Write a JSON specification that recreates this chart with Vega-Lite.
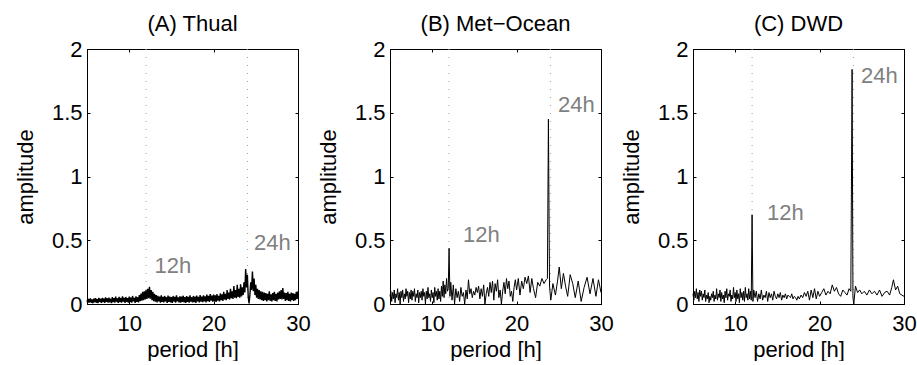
{
  "$schema": "https://vega.github.io/schema/vega-lite/v6.json",
  "autosize": {"type": "pad"},
  "padding": {"left": 13, "top": 12, "right": 0, "bottom": 0},
  "background": "white",
  "bounds": "flush",
  "spacing": 92,
  "datasets": {
    "refs": [{"period": 12}, {"period": 24}],
    "labA": [{"period": 13.0, "amp": 0.24, "label": "12h"}, {"period": 24.8, "amp": 0.42, "label": "24h"}],
    "labB": [{"period": 13.65, "amp": 0.486, "label": "12h"}, {"period": 24.9, "amp": 1.506, "label": "24h"}],
    "labC": [{"period": 13.77, "amp": 0.659, "label": "12h"}, {"period": 24.9, "amp": 1.733, "label": "24h"}],
    "thual": [
      {"period":5.0,"amp":0.03},{"period":5.1,"amp":0.008},{"period":5.2,"amp":0.04},{"period":5.3,"amp":0.012},{"period":5.4,"amp":0.045},{"period":5.5,"amp":0.01},{"period":5.6,"amp":0.036},{"period":5.7,"amp":0.006},{"period":5.8,"amp":0.042},{"period":5.9,"amp":0.014},
      {"period":6.0,"amp":0.046},{"period":6.1,"amp":0.01},{"period":6.2,"amp":0.039},{"period":6.3,"amp":0.007},{"period":6.4,"amp":0.048},{"period":6.5,"amp":0.016},{"period":6.6,"amp":0.041},{"period":6.7,"amp":0.009},{"period":6.8,"amp":0.047},{"period":6.9,"amp":0.014},
      {"period":7.0,"amp":0.043},{"period":7.1,"amp":0.008},{"period":7.2,"amp":0.052},{"period":7.3,"amp":0.017},{"period":7.4,"amp":0.045},{"period":7.5,"amp":0.01},{"period":7.6,"amp":0.05},{"period":7.7,"amp":0.013},{"period":7.8,"amp":0.041},{"period":7.9,"amp":0.007},
      {"period":8.0,"amp":0.054},{"period":8.1,"amp":0.015},{"period":8.2,"amp":0.046},{"period":8.3,"amp":0.011},{"period":8.4,"amp":0.058},{"period":8.5,"amp":0.018},{"period":8.6,"amp":0.044},{"period":8.7,"amp":0.009},{"period":8.8,"amp":0.056},{"period":8.9,"amp":0.014},
      {"period":9.0,"amp":0.047},{"period":9.1,"amp":0.011},{"period":9.2,"amp":0.06},{"period":9.3,"amp":0.019},{"period":9.4,"amp":0.049},{"period":9.5,"amp":0.008},{"period":9.6,"amp":0.055},{"period":9.7,"amp":0.016},{"period":9.8,"amp":0.046},{"period":9.9,"amp":0.01},
      {"period":10.0,"amp":0.058},{"period":10.1,"amp":0.014},{"period":10.2,"amp":0.051},{"period":10.3,"amp":0.011},{"period":10.4,"amp":0.063},{"period":10.5,"amp":0.02},{"period":10.6,"amp":0.048},{"period":10.7,"amp":0.009},{"period":10.8,"amp":0.06},{"period":10.9,"amp":0.017},
      {"period":11.0,"amp":0.053},{"period":11.1,"amp":0.013},{"period":11.2,"amp":0.07},{"period":11.3,"amp":0.022},{"period":11.4,"amp":0.082},{"period":11.5,"amp":0.027},{"period":11.6,"amp":0.095},{"period":11.7,"amp":0.03},{"period":11.8,"amp":0.1},{"period":11.9,"amp":0.035},
      {"period":12.0,"amp":0.11},{"period":12.1,"amp":0.04},{"period":12.2,"amp":0.12},{"period":12.3,"amp":0.045},{"period":12.4,"amp":0.135},{"period":12.5,"amp":0.042},{"period":12.6,"amp":0.11},{"period":12.7,"amp":0.03},{"period":12.8,"amp":0.095},{"period":12.9,"amp":0.022},
      {"period":13.0,"amp":0.08},{"period":13.1,"amp":0.018},{"period":13.2,"amp":0.07},{"period":13.3,"amp":0.012},{"period":13.4,"amp":0.064},{"period":13.5,"amp":0.02},{"period":13.6,"amp":0.058},{"period":13.7,"amp":0.01},{"period":13.8,"amp":0.068},{"period":13.9,"amp":0.017},
      {"period":14.0,"amp":0.056},{"period":14.1,"amp":0.012},{"period":14.2,"amp":0.063},{"period":14.3,"amp":0.02},{"period":14.4,"amp":0.053},{"period":14.5,"amp":0.009},{"period":14.6,"amp":0.066},{"period":14.7,"amp":0.016},{"period":14.8,"amp":0.058},{"period":14.9,"amp":0.012},
      {"period":15.0,"amp":0.054},{"period":15.1,"amp":0.008},{"period":15.2,"amp":0.063},{"period":15.3,"amp":0.019},{"period":15.4,"amp":0.056},{"period":15.5,"amp":0.011},{"period":15.6,"amp":0.068},{"period":15.7,"amp":0.021},{"period":15.8,"amp":0.052},{"period":15.9,"amp":0.012},
      {"period":16.0,"amp":0.06},{"period":16.1,"amp":0.01},{"period":16.2,"amp":0.058},{"period":16.3,"amp":0.016},{"period":16.4,"amp":0.065},{"period":16.5,"amp":0.012},{"period":16.6,"amp":0.054},{"period":16.7,"amp":0.008},{"period":16.8,"amp":0.062},{"period":16.9,"amp":0.017},
      {"period":17.0,"amp":0.056},{"period":17.1,"amp":0.011},{"period":17.2,"amp":0.068},{"period":17.3,"amp":0.019},{"period":17.4,"amp":0.053},{"period":17.5,"amp":0.012},{"period":17.6,"amp":0.063},{"period":17.7,"amp":0.015},{"period":17.8,"amp":0.058},{"period":17.9,"amp":0.009},
      {"period":18.0,"amp":0.066},{"period":18.1,"amp":0.021},{"period":18.2,"amp":0.056},{"period":18.3,"amp":0.012},{"period":18.4,"amp":0.07},{"period":18.5,"amp":0.018},{"period":18.6,"amp":0.058},{"period":18.7,"amp":0.014},{"period":18.8,"amp":0.068},{"period":18.9,"amp":0.021},
      {"period":19.0,"amp":0.06},{"period":19.1,"amp":0.012},{"period":19.2,"amp":0.074},{"period":19.3,"amp":0.023},{"period":19.4,"amp":0.063},{"period":19.5,"amp":0.016},{"period":19.6,"amp":0.078},{"period":19.7,"amp":0.026},{"period":19.8,"amp":0.066},{"period":19.9,"amp":0.019},
      {"period":20.0,"amp":0.073},{"period":20.1,"amp":0.021},{"period":20.2,"amp":0.068},{"period":20.3,"amp":0.016},{"period":20.4,"amp":0.078},{"period":20.5,"amp":0.026},{"period":20.6,"amp":0.063},{"period":20.7,"amp":0.021},{"period":20.8,"amp":0.083},{"period":20.9,"amp":0.03},
      {"period":21.0,"amp":0.075},{"period":21.1,"amp":0.025},{"period":21.2,"amp":0.095},{"period":21.3,"amp":0.035},{"period":21.4,"amp":0.08},{"period":21.5,"amp":0.03},{"period":21.6,"amp":0.11},{"period":21.7,"amp":0.04},{"period":21.8,"amp":0.09},{"period":21.9,"amp":0.035},
      {"period":22.0,"amp":0.12},{"period":22.1,"amp":0.045},{"period":22.2,"amp":0.1},{"period":22.3,"amp":0.04},{"period":22.4,"amp":0.14},{"period":22.5,"amp":0.05},{"period":22.6,"amp":0.11},{"period":22.7,"amp":0.045},{"period":22.8,"amp":0.15},{"period":22.9,"amp":0.055},
      {"period":23.0,"amp":0.12},{"period":23.1,"amp":0.05},{"period":23.2,"amp":0.155},{"period":23.3,"amp":0.06},{"period":23.4,"amp":0.13},{"period":23.5,"amp":0.07},{"period":23.6,"amp":0.17},{"period":23.7,"amp":0.09},{"period":23.8,"amp":0.275},{"period":23.9,"amp":0.13},
      {"period":24.0,"amp":0.23},{"period":24.1,"amp":0.06},{"period":24.2,"amp":0.005},{"period":24.3,"amp":0.07},{"period":24.4,"amp":0.17},{"period":24.5,"amp":0.11},{"period":24.6,"amp":0.255},{"period":24.7,"amp":0.1},{"period":24.8,"amp":0.2},{"period":24.9,"amp":0.07},
      {"period":25.0,"amp":0.15},{"period":25.1,"amp":0.05},{"period":25.2,"amp":0.12},{"period":25.3,"amp":0.04},{"period":25.4,"amp":0.11},{"period":25.5,"amp":0.035},{"period":25.6,"amp":0.1},{"period":25.7,"amp":0.03},{"period":25.8,"amp":0.095},{"period":25.9,"amp":0.025},
      {"period":26.0,"amp":0.09},{"period":26.1,"amp":0.03},{"period":26.2,"amp":0.085},{"period":26.3,"amp":0.02},{"period":26.4,"amp":0.08},{"period":26.5,"amp":0.03},{"period":26.6,"amp":0.1},{"period":26.7,"amp":0.025},{"period":26.8,"amp":0.075},{"period":26.9,"amp":0.02},
      {"period":27.0,"amp":0.085},{"period":27.1,"amp":0.03},{"period":27.2,"amp":0.095},{"period":27.3,"amp":0.025},{"period":27.4,"amp":0.08},{"period":27.5,"amp":0.02},{"period":27.6,"amp":0.09},{"period":27.7,"amp":0.035},{"period":27.8,"amp":0.1},{"period":27.9,"amp":0.04},
      {"period":28.0,"amp":0.11},{"period":28.1,"amp":0.035},{"period":28.2,"amp":0.125},{"period":28.3,"amp":0.04},{"period":28.4,"amp":0.09},{"period":28.5,"amp":0.025},{"period":28.6,"amp":0.085},{"period":28.7,"amp":0.03},{"period":28.8,"amp":0.095},{"period":28.9,"amp":0.025},
      {"period":29.0,"amp":0.08},{"period":29.1,"amp":0.02},{"period":29.2,"amp":0.09},{"period":29.3,"amp":0.03},{"period":29.4,"amp":0.085},{"period":29.5,"amp":0.025},{"period":29.6,"amp":0.08},{"period":29.7,"amp":0.03},{"period":29.8,"amp":0.095},{"period":29.9,"amp":0.04},
      {"period":30.0,"amp":0.1}
    ],
    "met": [
      {"period":5.0,"amp":0.06},{"period":5.1,"amp":0.1},{"period":5.2,"amp":0.02},{"period":5.3,"amp":0.09},{"period":5.4,"amp":0.04},{"period":5.5,"amp":0.11},{"period":5.6,"amp":0.01},{"period":5.7,"amp":0.08},{"period":5.8,"amp":0.05},{"period":5.9,"amp":0.12},
      {"period":6.0,"amp":0.03},{"period":6.1,"amp":0.09},{"period":6.2,"amp":0.0},{"period":6.3,"amp":0.1},{"period":6.4,"amp":0.05},{"period":6.5,"amp":0.11},{"period":6.6,"amp":0.02},{"period":6.7,"amp":0.08},{"period":6.8,"amp":0.04},{"period":6.9,"amp":0.12},
      {"period":7.0,"amp":0.06},{"period":7.1,"amp":0.1},{"period":7.2,"amp":0.01},{"period":7.3,"amp":0.09},{"period":7.4,"amp":0.04},{"period":7.5,"amp":0.11},{"period":7.6,"amp":0.03},{"period":7.7,"amp":0.1},{"period":7.8,"amp":0.06},{"period":7.9,"amp":0.12},
      {"period":8.0,"amp":0.02},{"period":8.1,"amp":0.08},{"period":8.2,"amp":0.05},{"period":8.3,"amp":0.11},{"period":8.4,"amp":0.01},{"period":8.5,"amp":0.09},{"period":8.6,"amp":0.05},{"period":8.7,"amp":0.1},{"period":8.8,"amp":0.03},{"period":8.9,"amp":0.12},
      {"period":9.0,"amp":0.06},{"period":9.1,"amp":0.09},{"period":9.2,"amp":0.0},{"period":9.3,"amp":0.1},{"period":9.4,"amp":0.04},{"period":9.5,"amp":0.13},{"period":9.6,"amp":0.05},{"period":9.7,"amp":0.08},{"period":9.8,"amp":0.02},{"period":9.9,"amp":0.11},
      {"period":10.0,"amp":0.05},{"period":10.1,"amp":0.09},{"period":10.2,"amp":0.01},{"period":10.3,"amp":0.13},{"period":10.4,"amp":0.06},{"period":10.5,"amp":0.1},{"period":10.6,"amp":0.03},{"period":10.7,"amp":0.12},{"period":10.8,"amp":0.04},{"period":10.9,"amp":0.1},
      {"period":11.0,"amp":0.02},{"period":11.1,"amp":0.14},{"period":11.2,"amp":0.06},{"period":11.3,"amp":0.18},{"period":11.4,"amp":0.05},{"period":11.5,"amp":0.15},{"period":11.6,"amp":0.08},{"period":11.7,"amp":0.2},{"period":11.8,"amp":0.1},{"period":11.9,"amp":0.12},
      {"period":12.0,"amp":0.437},{"period":12.1,"amp":0.06},{"period":12.2,"amp":0.17},{"period":12.35,"amp":0.03},{"period":12.5,"amp":0.15},{"period":12.65,"amp":0.0},{"period":12.8,"amp":0.12},{"period":12.95,"amp":0.05},
      {"period":13.1,"amp":0.1},{"period":13.25,"amp":0.02},{"period":13.4,"amp":0.13},{"period":13.55,"amp":0.06},{"period":13.7,"amp":0.09},{"period":13.85,"amp":0.0},{"period":14.0,"amp":0.11},{"period":14.15,"amp":0.04},
      {"period":14.3,"amp":0.19},{"period":14.45,"amp":0.08},{"period":14.6,"amp":0.12},{"period":14.75,"amp":0.05},{"period":14.9,"amp":0.1},{"period":15.05,"amp":0.07},{"period":15.2,"amp":0.13},{"period":15.35,"amp":0.09},
      {"period":15.5,"amp":0.14},{"period":15.65,"amp":0.04},{"period":15.8,"amp":0.12},{"period":15.95,"amp":0.06},{"period":16.1,"amp":0.15},{"period":16.25,"amp":0.0},{"period":16.4,"amp":0.08},{"period":16.55,"amp":0.13},
      {"period":16.7,"amp":0.06},{"period":16.85,"amp":0.17},{"period":17.0,"amp":0.09},{"period":17.15,"amp":0.18},{"period":17.3,"amp":0.03},{"period":17.45,"amp":0.16},{"period":17.6,"amp":0.1},{"period":17.75,"amp":0.19},
      {"period":17.9,"amp":0.05},{"period":18.05,"amp":0.11},{"period":18.2,"amp":0.0},{"period":18.35,"amp":0.1},{"period":18.5,"amp":0.17},{"period":18.65,"amp":0.08},{"period":18.8,"amp":0.2},{"period":18.95,"amp":0.12},
      {"period":19.1,"amp":0.18},{"period":19.25,"amp":0.06},{"period":19.4,"amp":0.1},{"period":19.55,"amp":0.02},{"period":19.7,"amp":0.13},{"period":19.85,"amp":0.19},
      {"period":20.0,"amp":0.11},{"period":20.2,"amp":0.2},{"period":20.4,"amp":0.07},{"period":20.6,"amp":0.18},{"period":20.8,"amp":0.12},{"period":21.0,"amp":0.21},{"period":21.2,"amp":0.16},{"period":21.4,"amp":0.22},
      {"period":21.6,"amp":0.09},{"period":21.8,"amp":0.2},{"period":22.0,"amp":0.12},{"period":22.25,"amp":0.05},{"period":22.5,"amp":0.17},{"period":22.75,"amp":0.14},{"period":23.0,"amp":0.2},{"period":23.25,"amp":0.16},
      {"period":23.5,"amp":0.19},{"period":23.65,"amp":0.2},{"period":23.77,"amp":1.45},{"period":23.9,"amp":0.14},{"period":24.05,"amp":0.03},{"period":24.3,"amp":0.16},{"period":24.6,"amp":0.07},{"period":24.85,"amp":0.18},
      {"period":25.05,"amp":0.29},{"period":25.3,"amp":0.12},{"period":25.55,"amp":0.24},{"period":25.8,"amp":0.14},{"period":26.05,"amp":0.06},{"period":26.35,"amp":0.23},{"period":26.65,"amp":0.16},{"period":26.95,"amp":0.05},
      {"period":27.3,"amp":0.18},{"period":27.65,"amp":0.02},{"period":28.0,"amp":0.13},{"period":28.35,"amp":0.21},{"period":28.7,"amp":0.08},{"period":29.05,"amp":0.2},{"period":29.4,"amp":0.06},{"period":29.7,"amp":0.19},{"period":30.0,"amp":0.09}
    ],
    "dwd": [
      {"period":5.0,"amp":0.08},{"period":5.1,"amp":0.03},{"period":5.2,"amp":0.1},{"period":5.3,"amp":0.05},{"period":5.4,"amp":0.12},{"period":5.5,"amp":0.04},{"period":5.6,"amp":0.09},{"period":5.7,"amp":0.02},{"period":5.8,"amp":0.11},{"period":5.9,"amp":0.06},
      {"period":6.0,"amp":0.1},{"period":6.1,"amp":0.03},{"period":6.2,"amp":0.08},{"period":6.3,"amp":0.05},{"period":6.4,"amp":0.11},{"period":6.5,"amp":0.02},{"period":6.6,"amp":0.07},{"period":6.7,"amp":0.04},{"period":6.8,"amp":0.09},{"period":6.9,"amp":0.01},
      {"period":7.0,"amp":0.06},{"period":7.1,"amp":0.03},{"period":7.2,"amp":0.08},{"period":7.3,"amp":0.05},{"period":7.4,"amp":0.1},{"period":7.5,"amp":0.02},{"period":7.6,"amp":0.07},{"period":7.7,"amp":0.04},{"period":7.8,"amp":0.12},{"period":7.9,"amp":0.03},
      {"period":8.0,"amp":0.08},{"period":8.1,"amp":0.05},{"period":8.2,"amp":0.11},{"period":8.3,"amp":0.02},{"period":8.4,"amp":0.09},{"period":8.5,"amp":0.04},{"period":8.6,"amp":0.07},{"period":8.7,"amp":0.01},{"period":8.8,"amp":0.1},{"period":8.9,"amp":0.05},
      {"period":9.0,"amp":0.12},{"period":9.1,"amp":0.03},{"period":9.2,"amp":0.08},{"period":9.3,"amp":0.06},{"period":9.4,"amp":0.11},{"period":9.5,"amp":0.02},{"period":9.6,"amp":0.07},{"period":9.7,"amp":0.04},{"period":9.8,"amp":0.13},{"period":9.9,"amp":0.05},
      {"period":10.0,"amp":0.09},{"period":10.1,"amp":0.02},{"period":10.2,"amp":0.11},{"period":10.3,"amp":0.04},{"period":10.4,"amp":0.08},{"period":10.5,"amp":0.01},{"period":10.6,"amp":0.12},{"period":10.7,"amp":0.05},{"period":10.8,"amp":0.09},{"period":10.9,"amp":0.03},
      {"period":11.0,"amp":0.1},{"period":11.1,"amp":0.02},{"period":11.2,"amp":0.13},{"period":11.3,"amp":0.05},{"period":11.4,"amp":0.08},{"period":11.5,"amp":0.03},{"period":11.6,"amp":0.12},{"period":11.7,"amp":0.04},{"period":11.8,"amp":0.1},{"period":11.9,"amp":0.03},
      {"period":12.0,"amp":0.7},{"period":12.1,"amp":0.02},{"period":12.2,"amp":0.11},{"period":12.35,"amp":0.05},{"period":12.5,"amp":0.1},{"period":12.65,"amp":0.02},{"period":12.8,"amp":0.08},{"period":12.95,"amp":0.04},
      {"period":13.1,"amp":0.11},{"period":13.25,"amp":0.03},{"period":13.4,"amp":0.07},{"period":13.55,"amp":0.05},{"period":13.7,"amp":0.1},{"period":13.85,"amp":0.02},{"period":14.0,"amp":0.09},{"period":14.15,"amp":0.05},
      {"period":14.3,"amp":0.08},{"period":14.45,"amp":0.03},{"period":14.6,"amp":0.1},{"period":14.75,"amp":0.06},{"period":14.9,"amp":0.04},{"period":15.05,"amp":0.08},{"period":15.2,"amp":0.05},{"period":15.35,"amp":0.09},
      {"period":15.5,"amp":0.03},{"period":15.65,"amp":0.07},{"period":15.8,"amp":0.05},{"period":15.95,"amp":0.08},{"period":16.1,"amp":0.04},{"period":16.25,"amp":0.07},{"period":16.4,"amp":0.06},{"period":16.55,"amp":0.05},
      {"period":16.7,"amp":0.08},{"period":16.85,"amp":0.04},{"period":17.0,"amp":0.06},{"period":17.15,"amp":0.05},{"period":17.3,"amp":0.03},{"period":17.45,"amp":0.06},{"period":17.6,"amp":0.04},{"period":17.8,"amp":0.07},
      {"period":18.0,"amp":0.05},{"period":18.2,"amp":0.09},{"period":18.4,"amp":0.06},{"period":18.6,"amp":0.1},{"period":18.8,"amp":0.03},{"period":19.0,"amp":0.11},{"period":19.2,"amp":0.05},{"period":19.4,"amp":0.12},
      {"period":19.6,"amp":0.04},{"period":19.8,"amp":0.1},{"period":20.0,"amp":0.06},{"period":20.25,"amp":0.09},{"period":20.5,"amp":0.12},{"period":20.75,"amp":0.07},{"period":21.0,"amp":0.1},{"period":21.25,"amp":0.08},
      {"period":21.5,"amp":0.15},{"period":21.75,"amp":0.1},{"period":22.0,"amp":0.13},{"period":22.25,"amp":0.08},{"period":22.5,"amp":0.06},{"period":22.75,"amp":0.11},{"period":23.0,"amp":0.09},{"period":23.25,"amp":0.07},
      {"period":23.5,"amp":0.12},{"period":23.7,"amp":0.1},{"period":23.85,"amp":1.84},{"period":23.95,"amp":0.05},{"period":24.05,"amp":0.0},{"period":24.25,"amp":0.14},{"period":24.5,"amp":0.09},{"period":24.75,"amp":0.11},
      {"period":25.0,"amp":0.08},{"period":25.3,"amp":0.1},{"period":25.6,"amp":0.07},{"period":25.9,"amp":0.11},{"period":26.2,"amp":0.08},{"period":26.5,"amp":0.1},{"period":26.8,"amp":0.07},{"period":27.1,"amp":0.11},
      {"period":27.4,"amp":0.06},{"period":27.7,"amp":0.09},{"period":28.0,"amp":0.1},{"period":28.3,"amp":0.07},{"period":28.55,"amp":0.13},{"period":28.75,"amp":0.19},{"period":29.0,"amp":0.11},{"period":29.25,"amp":0.14},
      {"period":29.5,"amp":0.08},{"period":29.75,"amp":0.07},{"period":30.0,"amp":0.06}
    ]
  },
  "hconcat": [
    {
      "width": 211, "height": 255,
      "title": "(A) Thual",
      "layer": [
        {"data": {"name": "refs"}, "mark": {"type": "rule", "color": "#9a9a9a", "strokeDash": [1, 7], "strokeWidth": 1},
         "encoding": {"x": {"field": "period", "type": "quantitative", "scale": {"domain": [5, 30], "nice": false, "zero": false},
           "axis": {"orient": "top", "labels": false, "title": null, "values": [10, 20, 30]}}}},
        {"data": {"name": "thual"}, "mark": {"type": "line", "color": "black", "strokeWidth": 1.4},
         "encoding": {
           "x": {"field": "period", "type": "quantitative", "scale": {"domain": [5, 30], "nice": false, "zero": false}, "axis": {"orient": "bottom", "title": "period [h]", "values": [10, 20, 30], "format": "d"}},
           "y": {"field": "amp", "type": "quantitative", "scale": {"domain": [0, 2], "nice": false, "zero": false}, "axis": {"orient": "left", "title": "amplitude", "values": [0, 0.5, 1, 1.5, 2], "format": "~g"}}}},
        {"data": {"name": "labA"}, "mark": {"type": "text", "align": "left", "baseline": "alphabetic", "color": "#808080", "fontSize": 22},
         "encoding": {
           "x": {"field": "period", "type": "quantitative", "axis": null},
           "y": {"field": "amp", "type": "quantitative", "axis": {"orient": "right", "labels": false, "title": null, "values": [0, 0.5, 1, 1.5, 2]}},
           "text": {"field": "label"}}}
      ],
      "resolve": {"axis": {"x": "independent", "y": "independent"}}
    },
    {
      "width": 211, "height": 255,
      "title": "(B) Met\u2212Ocean",
      "layer": [
        {"data": {"name": "refs"}, "mark": {"type": "rule", "color": "#9a9a9a", "strokeDash": [1, 7], "strokeWidth": 1},
         "encoding": {"x": {"field": "period", "type": "quantitative", "scale": {"domain": [5, 30], "nice": false, "zero": false},
           "axis": {"orient": "top", "labels": false, "title": null, "values": [10, 20, 30]}}}},
        {"data": {"name": "met"}, "mark": {"type": "line", "color": "black", "strokeWidth": 1},
         "encoding": {
           "x": {"field": "period", "type": "quantitative", "scale": {"domain": [5, 30], "nice": false, "zero": false}, "axis": {"orient": "bottom", "title": "period [h]", "values": [10, 20, 30], "format": "d"}},
           "y": {"field": "amp", "type": "quantitative", "scale": {"domain": [0, 2], "nice": false, "zero": false}, "axis": {"orient": "left", "title": "amplitude", "values": [0, 0.5, 1, 1.5, 2], "format": "~g"}}}},
        {"data": {"name": "labB"}, "mark": {"type": "text", "align": "left", "baseline": "alphabetic", "color": "#808080", "fontSize": 22},
         "encoding": {
           "x": {"field": "period", "type": "quantitative", "axis": null},
           "y": {"field": "amp", "type": "quantitative", "axis": {"orient": "right", "labels": false, "title": null, "values": [0, 0.5, 1, 1.5, 2]}},
           "text": {"field": "label"}}}
      ],
      "resolve": {"axis": {"x": "independent", "y": "independent"}}
    },
    {
      "width": 211, "height": 255,
      "title": "(C) DWD",
      "layer": [
        {"data": {"name": "refs"}, "mark": {"type": "rule", "color": "#9a9a9a", "strokeDash": [1, 7], "strokeWidth": 1},
         "encoding": {"x": {"field": "period", "type": "quantitative", "scale": {"domain": [5, 30], "nice": false, "zero": false},
           "axis": {"orient": "top", "labels": false, "title": null, "values": [10, 20, 30]}}}},
        {"data": {"name": "dwd"}, "mark": {"type": "line", "color": "black", "strokeWidth": 1},
         "encoding": {
           "x": {"field": "period", "type": "quantitative", "scale": {"domain": [5, 30], "nice": false, "zero": false}, "axis": {"orient": "bottom", "title": "period [h]", "values": [10, 20, 30], "format": "d"}},
           "y": {"field": "amp", "type": "quantitative", "scale": {"domain": [0, 2], "nice": false, "zero": false}, "axis": {"orient": "left", "title": "amplitude", "values": [0, 0.5, 1, 1.5, 2], "format": "~g"}}}},
        {"data": {"name": "labC"}, "mark": {"type": "text", "align": "left", "baseline": "alphabetic", "color": "#808080", "fontSize": 22},
         "encoding": {
           "x": {"field": "period", "type": "quantitative", "axis": null},
           "y": {"field": "amp", "type": "quantitative", "axis": {"orient": "right", "labels": false, "title": null, "values": [0, 0.5, 1, 1.5, 2]}},
           "text": {"field": "label"}}}
      ],
      "resolve": {"axis": {"x": "independent", "y": "independent"}}
    }
  ],
  "config": {
    "font": "Liberation Sans",
    "view": {"stroke": "black", "strokeWidth": 1},
    "axis": {
      "grid": false,
      "domainColor": "black",
      "tickColor": "black",
      "tickSize": -3,
      "labelFontSize": 22,
      "labelColor": "black",
      "labelFlush": false,
      "labelOverlap": false,
      "titleFontSize": 22,
      "titleFontWeight": "normal",
      "titleColor": "black"
    },
    "axisX": {"labelPadding": 12, "titlePadding": 5},
    "axisY": {"labelPadding": 8, "titlePadding": 14},
    "title": {"fontSize": 22, "fontWeight": "normal", "color": "black", "anchor": "middle", "frame": "group", "baseline": "alphabetic", "offset": 2}
  }
}
